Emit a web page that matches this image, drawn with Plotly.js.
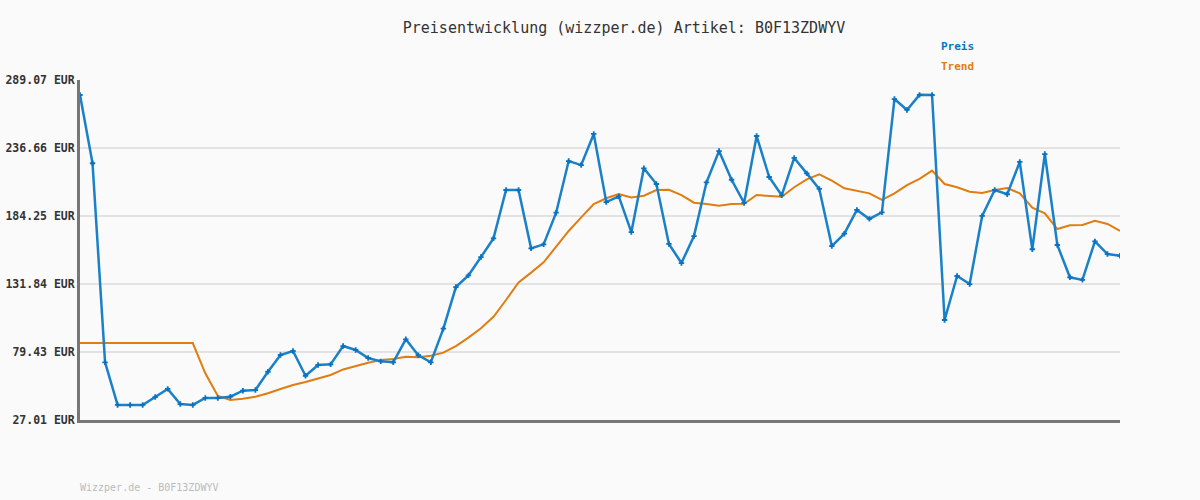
<!DOCTYPE html>
<html>
<head>
<meta charset="utf-8">
<script src="https://cdn.plot.ly/plotly-3.0.1.min.js"></script>
<style>html,body{margin:0;padding:0;background:#fafafa;}#chart{width:1200px;height:500px;}</style>
</head>
<body>
<div id="chart"></div>
<script>
const preis = [277.5,224.9,71.5,38.6,38.6,38.6,44.7,51.0,39.3,38.6,
  44.0,44.0,45.0,49.6,50.1,64.2,77.1,80.2,61.1,69.4,
  69.9,84.0,81.0,74.8,72.2,71.5,89.2,76.9,71.5,97.4,
  129.5,138.5,152.6,167.0,204.3,204.3,159.3,162.4,186.8,226.6,
  223.5,247.5,195.0,199.4,171.8,221.0,208.9,162.7,148.0,168.8,
  210.2,234.3,212.2,194.3,245.9,214.3,200.2,229.0,217.1,205.1,
  161.1,170.6,188.9,182.0,187.1,274.4,266.0,277.6,277.5,104.1,
  138.0,131.8,184.3,204.3,201.0,225.9,158.6,232.0,161.9,137.0,
  135.0,164.7,154.9,153.6];
const trend = [86.3,86.3,86.3,86.3,86.3,86.3,86.3,86.3,86.3,86.3,
  63.0,45.5,42.4,43.4,45.0,47.6,50.9,54.0,56.3,59.1,
  61.7,66.0,68.9,71.2,73.3,74.0,75.8,75.3,76.6,78.9,
  84.0,90.5,97.7,106.6,119.5,133.1,140.6,148.5,160.6,172.7,
  183.2,193.5,197.9,201.2,198.5,199.9,204.3,204.5,200.4,194.5,
  193.5,192.2,193.5,193.7,200.4,199.9,199.1,206.4,212.5,216.4,
  211.5,205.6,203.5,201.7,196.6,201.7,208.1,212.8,219.2,208.9,
  206.4,203.0,202.0,204.3,205.8,201.7,190.6,186.3,174.2,177.1,
  177.3,180.6,178.1,172.7];
const tickVals = [27.01,79.43,131.84,184.25,236.66,289.07];
const tickLabels = tickVals.map(v => v.toFixed(2) + ' EUR');
const titleText = 'Preisentwicklung (wizzper.de) Artikel: B0F13ZDWYV';
const footerText = 'Wizzper.de - B0F13ZDWYV';

const idx = preis.map((_, i) => i);
const mono = 'DejaVu Sans Mono, monospace';

const traces = [
  {x: idx, y: trend, type: 'scatter', mode: 'lines', name: 'Trend',
   line: {color: '#e07d10', width: 2}, hoverinfo: 'y'},
  {x: idx, y: preis, type: 'scatter', mode: 'lines+markers', name: 'Preis',
   line: {color: '#1a80c8', width: 2.5},
   marker: {symbol: 'cross', size: 4.5, color: '#0a72c0'}, hoverinfo: 'y'}
];

const layout = {
  width: 1200, height: 500,
  paper_bgcolor: '#fafafa', plot_bgcolor: '#fafafa',
  margin: {l: 80, r: 80, t: 80, b: 80},
  showlegend: false,
  title: {text: titleText, x: 0.52, xanchor: 'center', y: 0.944, yanchor: 'middle',
          font: {family: mono, size: 15, color: '#333'}},
  xaxis: {range: [0, preis.length - 1], showticklabels: false, showgrid: false,
          zeroline: false, showline: true, linecolor: '#777', linewidth: 3, ticks: ''},
  yaxis: {range: [27.01, 289.07], tickvals: tickVals, ticktext: tickLabels,
          showgrid: true, gridcolor: '#e3e3e3', gridwidth: 2, zeroline: false,
          showline: true, linecolor: '#777', linewidth: 3, ticks: '',
          tickfont: {family: mono, size: 11.5, color: '#333', weight: 'bold'}, ticklabelstandoff: 0},
  annotations: [
    {text: 'Preis', xref: 'paper', yref: 'paper', x: (939-80)/1040, y: 1 + (80-47)/340,
     xanchor: 'left', yanchor: 'middle', showarrow: false,
     font: {family: mono, size: 11, color: '#0a72c0', weight: 'bold'}},
    {text: 'Trend', xref: 'paper', yref: 'paper', x: (939-80)/1040, y: 1 + (80-67)/340,
     xanchor: 'left', yanchor: 'middle', showarrow: false,
     font: {family: mono, size: 11, color: '#e07d10', weight: 'bold'}},
    {text: footerText, xref: 'paper', yref: 'paper', x: -2/1040, y: -(487-420)/340,
     xanchor: 'left', yanchor: 'middle', showarrow: false,
     font: {family: mono, size: 10, color: '#bbbbbb'}}
  ]
};

Plotly.newPlot('chart', traces, layout, {displayModeBar: false, staticPlot: true});
</script>
</body>
</html>
